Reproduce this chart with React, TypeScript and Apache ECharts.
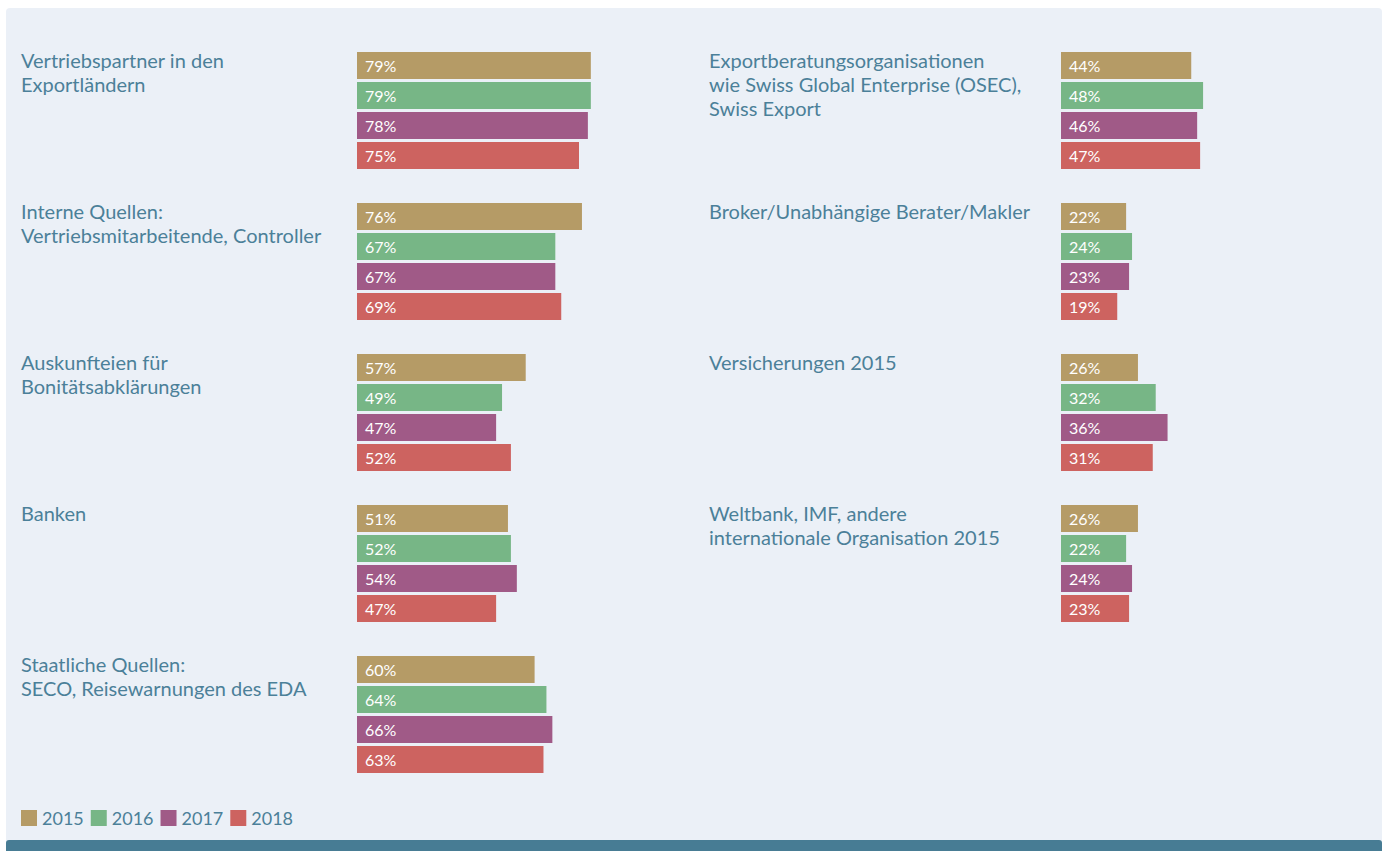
import React, { useEffect, useRef } from "react";
import * as echarts from "echarts";

const years = ["2015", "2016", "2017", "2018"];
const yearColors = ["#b59b66", "#77b686", "#a05a87", "#cd6360"];

const leftCategories = [
  "Vertriebspartner in den\nExportländern",
  "Interne Quellen:\nVertriebsmitarbeitende, Controller",
  "Auskunfteien für\nBonitätsabklärungen",
  "Banken",
  "Staatliche Quellen:\nSECO, Reisewarnungen des EDA",
];
const leftValues: number[][] = [
  [79, 76, 57, 51, 60], // 2015
  [79, 67, 49, 52, 64], // 2016
  [78, 67, 47, 54, 66], // 2017
  [75, 69, 52, 47, 63], // 2018
];

const rightCategories = [
  "Exportberatungsorganisationen\nwie Swiss Global Enterprise (OSEC),\nSwiss Export",
  "Broker/Unabhängige Berater/Makler",
  "Versicherungen 2015",
  "Weltbank, IMF, andere\ninternationale Organisation 2015",
];
const rightValues: number[][] = [
  [44, 22, 26, 26],
  [48, 24, 32, 22],
  [46, 23, 36, 24],
  [47, 19, 31, 23],
];

const TEXT = "#4b8099";
const FONT = "Lato, 'Open Sans', sans-serif";
const BAND = 151;
const GRID_TOP = 35;
const BAR_W = 27;
const GROUP_H = BAR_W * 4 + 3 * 3;

export default function App() {
  const ref = useRef<HTMLDivElement>(null);
  useEffect(() => {
    if (!ref.current) return;
    const chart = echarts.init(ref.current, null, { renderer: "svg" });

    const grids = [
      { left: 357, width: 296, top: GRID_TOP, height: BAND * leftCategories.length },
      { left: 1061, width: 296, top: GRID_TOP, height: BAND * rightCategories.length },
    ];
    const cats = [leftCategories, rightCategories];
    const vals = [leftValues, rightValues];
    const labelX = [21, 709];

    const series: any[] = [];
    [0, 1].forEach((g) => {
      years.forEach((y, k) => {
        series.push({
          type: "bar",
          name: y,
          xAxisIndex: g,
          yAxisIndex: g,
          data: vals[g][k],
          barWidth: BAR_W,
          barGap: "11.1%",
          itemStyle: { color: yearColors[k] },
          label: {
            show: true,
            position: "insideLeft",
            distance: 8,
            formatter: "{c}%",
            color: "#ffffff",
            fontSize: 16,
            fontFamily: FONT,
          },
        });
      });
    });

    const graphic: any[] = [
      {
        type: "rect",
        shape: { x: 6, y: 8, width: 1376, height: 843, r: 4 },
        style: { fill: "#ebf0f7" },
        z: -10,
      },
      {
        type: "rect",
        shape: { x: 6, y: 840, width: 1376, height: 11, r: [3, 3, 0, 0] },
        style: { fill: "#477c94" },
        z: -9,
      },
    ];
    [0, 1].forEach((g) => {
      cats[g].forEach((c, i) => {
        const barTop = GRID_TOP + i * BAND + (BAND - GROUP_H) / 2;
        graphic.push({
          type: "text",
          x: labelX[g],
          y: barTop - 4,
          style: {
            text: c,
            fill: TEXT,
            fontSize: 20,
            fontFamily: FONT,
            lineHeight: 24,
            verticalAlign: "top",
            align: "left",
          },
        });
      });
    });

    chart.setOption({
      animation: false,
      backgroundColor: "#ffffff",
      grid: grids,
      xAxis: grids.map((_, g) => ({
        type: "value",
        gridIndex: g,
        min: 0,
        max: 100,
        show: false,
      })),
      yAxis: grids.map((_, g) => ({
        type: "category",
        gridIndex: g,
        data: cats[g],
        inverse: true,
        show: false,
      })),
      legend: {
        data: years,
        left: 21,
        top: 809,
        icon: "rect",
        itemWidth: 16,
        itemHeight: 16,
        itemGap: 7,
        padding: 0,
        textStyle: { color: TEXT, fontSize: 18, fontFamily: FONT, lineHeight: 16 },
      },
      graphic,
      series,
    });
    return () => chart.dispose();
  }, []);
  return (
    <div
      ref={ref}
      style={{ position: "fixed", left: 0, top: 0, width: 1386, height: 851 }}
    />
  );
}
